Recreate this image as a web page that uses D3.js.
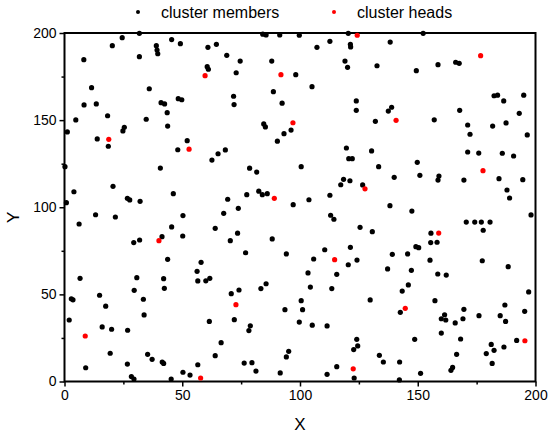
<!DOCTYPE html>
<html>
<head>
<meta charset="utf-8">
<script src="https://cdn.jsdelivr.net/npm/d3@7"></script>
<style>
body { margin: 0; background: #fff; }
text { font-family: Arial, "Liberation Sans", sans-serif; fill: #000; }
</style>
</head>
<body>
<div id="scatter"></div>
<script>
// node positions
var members = [
    [24.5,197.3],[31.8,199.8],[20.3,192.7],[39.0,192.7],[39.3,190.2],[39.6,188.1],[45.5,196.2],[49.2,193.9],
    [60.9,191.8],[64.5,193.5],[8.2,184.7],[31.8,186.4],[60.6,180.7],[61.1,179.2],[11.5,168.6],[36.0,168.0],
    [8.3,158.7],[13.5,159.3],[41.0,160.0],[42.5,159.3],[48.3,162.3],[49.8,161.7],[18.3,152.5],[43.6,154.3],
    [4.8,150.1],[34.7,150.5],[25.4,145.9],[24.8,143.8],[43.8,146.6],[1.2,143.2],[13.9,139.2],[18.6,135.0],
    [52.1,138.2],[48.1,133.0],[65.2,130.7],[62.6,127.1],[0.2,123.3],[40.7,122.5],[20.6,112.0],[4.0,108.9],
    [46.2,107.8],[26.7,105.1],[27.7,104.2],[32.1,103.4],[0.8,102.6],
    [13.2,95.7],[21.6,94.4],[6.2,90.4],[50.3,95.2],[45.5,88.7],[64.0,87.9],[50.2,83.5],[41.4,83.1],
    [31.9,81.2],[29.4,79.7],[43.8,70.1],[58.0,68.4],[56.3,63.2],[6.6,59.2],[30.7,59.6],[42.1,59.0],
    [56.6,57.7],[60.0,57.8],[61.7,59.2],[42.4,53.5],[29.6,52.3],[2.9,47.5],[3.6,46.9],[14.9,49.5],
    [33.5,47.2],[17.5,43.2],[33.8,38.2],[2.0,35.3],[16.0,31.3],[20.0,30.0],[26.8,29.4],[61.5,34.5],
    [19.4,16.2],[35.3,15.6],[37.2,12.7],[41.5,11.2],[42.1,10.4],[64.0,14.8],[9.0,7.9],[26.7,10.0],
    [56.6,9.6],[50.3,5.3],[53.3,3.7],[28.4,2.8],[29.5,1.4],[45.3,1.4],
    [84.2,199.3],[85.6,198.9],[91.4,198.9],[99.7,198.7],[120.5,199.8],[112.7,195.2],[107.2,191.8],[121.4,193.5],
    [121.5,192.0],[68.9,187.2],[74.6,183.9],[88.0,183.9],[119.1,183.9],[120.2,180.3],[132.7,181.2],[72.9,177.2],
    [98.2,176.1],[105.1,169.2],[88.7,166.3],[71.8,163.7],[72.0,158.9],[92.4,159.7],[123.9,161.0],[123.9,155.6],
    [132.0,149.3],[84.6,147.8],[85.3,146.1],[93.2,142.2],[96.2,144.3],[90.4,137.9],[68.3,132.9],[119.7,134.0],
    [130.4,132.3],[120.7,127.9],[122.2,127.9],[133.4,123.3],[78.6,122.4],[81.6,120.2],[100.5,123.3],[118.5,116.0],
    [117.3,112.9],[121.2,115.2],[126.6,112.8],[82.5,109.2],[84.0,107.2],[86.1,107.8],[77.4,107.2],[69.3,104.6],
    [103.8,104.3],[112.7,106.9],[97.1,101.5],[73.8,99.4],
    [67.6,96.5],[73.5,85.1],[70.4,80.8],[76.9,73.9],[88.2,81.8],[94.2,73.2],[113.0,95.4],[114.4,93.1],
    [125.5,88.5],[130.7,86.0],[121.4,77.0],[110.5,75.6],[105.8,70.3],[124.2,69.7],[120.5,67.0],[103.4,62.3],
    [115.6,61.5],[104.4,54.2],[113.5,53.3],[85.6,56.1],[83.4,53.3],[70.8,50.4],[74.1,52.5],[129.8,46.8],
    [100.5,46.4],[93.6,41.2],[101.1,41.2],[72.1,35.5],[99.7,34.1],[105.2,32.3],[111.5,31.9],[78.9,32.0],
    [78.3,29.2],[66.5,22.3],[95.2,17.3],[94.2,14.1],[124.1,24.2],[124.5,20.4],[122.8,18.3],[133.7,15.0],
    [76.3,10.6],[79.6,10.8],[81.3,6.0],[91.6,4.9],[111.5,4.1],[115.6,8.5],[123.0,2.0],
    [152.3,199.8],[138.3,194.8],[149.4,178.4],[158.6,181.8],[166.1,183.2],[167.6,182.6],[182.4,164.0],[183.9,164.3],
    [186.5,161.0],[195.0,164.3],[193.1,153.9],[138.9,157.4],[137.5,155.2],[167.8,155.6],[157.0,150.2],[171.2,147.2],
    [172.2,141.9],[181.8,146.6],[187.5,148.4],[196.5,141.5],[171.2,131.7],[175.9,131.1],[185.9,131.0],[190.7,129.4],
    [149.8,125.8],[140.0,117.2],[150.9,118.3],[159.0,117.9],[158.6,115.6],[169.6,115.6],[184.5,116.4],[194.6,115.8],
    [187.9,109.9],[189.0,105.3],[138.2,100.9],[147.5,97.8],
    [198.1,95.6],[170.6,91.5],[174.2,91.5],[177.0,91.5],[180.7,91.5],[177.8,86.8],[155.6,85.1],[155.5,79.7],
    [158.2,79.9],[149.2,77.4],[150.4,76.8],[139.2,73.0],[145.7,73.2],[155.2,69.6],[177.4,69.3],[188.4,65.9],
    [137.2,64.6],[147.3,63.8],[158.5,61.7],[162.1,61.1],[146.0,55.4],[143.4,51.9],[197.1,51.4],[157.3,46.4],
    [142.6,39.7],[161.4,38.3],[160.0,36.0],[161.9,35.3],[169.6,41.4],[169.2,36.0],[165.9,33.6],[176.0,37.8],
    [187.0,43.9],[185.0,37.8],[187.3,34.5],[195.4,40.3],[160.0,27.8],[148.7,24.2],[168.2,24.4],[192.0,23.6],
    [181.2,21.3],[182.4,17.9],[179.1,16.0],[186.6,19.8],[166.5,15.6],[135.4,11.2],[142.3,11.2],[181.6,10.4],
    [164.8,8.1],[164.1,6.4],[151.2,4.7],[142.2,0.9]
];

var heads = [
    [59.7,175.5],[18.8,139.0],[52.9,133.3],[40.1,80.8],[8.8,26.1],[57.8,2.0],[124.3,198.7],[91.9,176.1],
    [97.0,148.5],[127.6,110.6],[89.1,105.1],[72.8,44.1],[114.7,69.9],[122.6,7.3],[176.7,187.0],[140.8,149.9],
    [177.7,121.0],[158.9,85.2],[144.7,42.0],[195.5,23.4]
];

var xTicks = [0, 50, 100, 150, 200];
var yTicks = [0, 50, 100, 150, 200];
var minorTicks = [25, 75, 125, 175];
var legendLabels = ['cluster members', 'cluster heads'];
var legendColors = ['#000000', '#ff0000'];

var sWidth = 550;
var sHeight = 435;

var marg = {
    top: 33,
    bottom: 53.5,
    left: 64.5,
    right: 14.5,
};

var width = sWidth - marg.left - marg.right;
var height = sHeight - marg.top - marg.bottom;

var svg = d3.select('#scatter')
    .append('svg')
    .attr('width', sWidth)
    .attr('height', sHeight);

var chartsGroup = svg.append('g')
    .attr('transform', `translate(${marg.left}, ${marg.top})`);

var x = d3.scaleLinear().domain([0, 200]).range([0, width]);
var y = d3.scaleLinear().domain([0, 200]).range([height, 0]);

// minor ticks
chartsGroup.append('g')
    .attr('transform', `translate(0, ${height})`)
    .call(d3.axisBottom(x).tickValues(minorTicks).tickSize(3).tickFormat(''))
    .call(g => g.select('.domain').remove());
chartsGroup.append('g')
    .call(d3.axisLeft(y).tickValues(minorTicks).tickSize(3).tickFormat(''))
    .call(g => g.select('.domain').remove());

var xAxis = chartsGroup.append('g')
    .attr('transform', `translate(0, ${height})`)
    .call(d3.axisBottom(x).tickValues(xTicks).tickSize(5).tickPadding(4));
xAxis.select('.domain').remove();
xAxis.selectAll('text').style('font-size', '14px');

var yAxis = chartsGroup.append('g')
    .call(d3.axisLeft(y).tickValues(yTicks).tickSize(5).tickPadding(3));
yAxis.select('.domain').remove();
yAxis.selectAll('text').style('font-size', '14px');

chartsGroup.selectAll('.tick line')
    .attr('stroke', '#000')
    .attr('stroke-width', 1.5);

// frame
chartsGroup.append('rect')
    .attr('x', 0)
    .attr('y', 0)
    .attr('width', width)
    .attr('height', height)
    .attr('fill', 'none')
    .attr('stroke', '#000')
    .attr('stroke-width', 2);

chartsGroup.append('g')
    .selectAll('circle')
    .data(members)
    .enter()
    .append('circle')
    .attr('cx', d => x(d[0]))
    .attr('cy', d => y(d[1]))
    .attr('r', 2.6)
    .attr('fill', legendColors[0]);

chartsGroup.append('g')
    .selectAll('circle')
    .data(heads)
    .enter()
    .append('circle')
    .attr('cx', d => x(d[0]))
    .attr('cy', d => y(d[1]))
    .attr('r', 2.6)
    .attr('fill', legendColors[1]);

// axis titles
svg.append('text')
    .attr('x', marg.left + width / 2)
    .attr('y', 430)
    .attr('text-anchor', 'middle')
    .style('font-size', '17px')
    .text('X');

svg.append('text')
    .attr('transform', `translate(19, ${marg.top + height / 2 + 10}) rotate(-90)`)
    .attr('text-anchor', 'middle')
    .style('font-size', '17px')
    .text('Y');

// legend
var legendX = [138, 334];
var legend = svg.selectAll('.legend')
    .data(legendLabels)
    .enter()
    .append('g')
    .attr('transform', (d, i) => `translate(${legendX[i]}, 12)`);

legend.append('circle')
    .attr('r', 2)
    .attr('fill', (d, i) => legendColors[i]);

legend.append('text')
    .attr('x', 23)
    .attr('y', 6)
    .style('font-size', '16px')
    .text(d => d);
</script>
</body>
</html>
